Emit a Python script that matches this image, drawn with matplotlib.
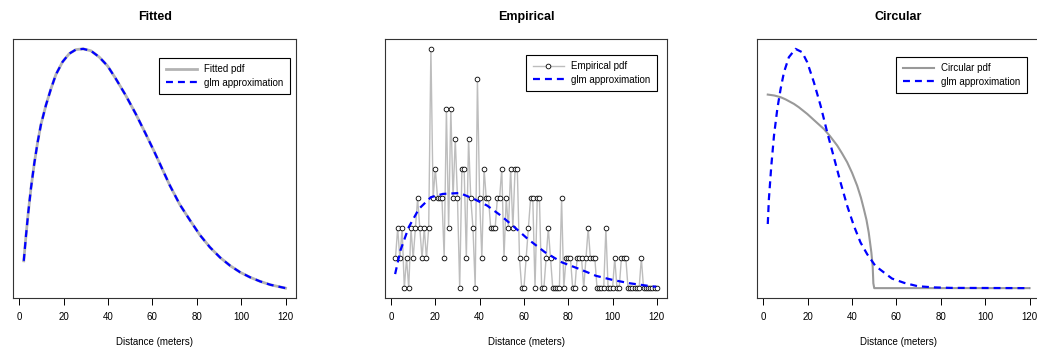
import matplotlib
matplotlib.use("Agg")
import matplotlib.pyplot as plt
import numpy as np

plt.rcParams["font.family"] = ["Liberation Sans", "DejaVu Sans"]
plt.rcParams["lines.scale_dashes"] = False

# --- Fitted panel (arbitrary pdf units) ---
fit_x = [2, 3, 4, 5.25, 6.75, 8.25, 9.75, 12, 14.25, 16.5, 19.5, 22.5, 25.5, 28.8,
         32.25, 36, 39.75, 43.5, 48, 52.5, 57, 60.75, 63.2, 67.8, 72.3, 76.9, 81.4,
         85.9, 90.5, 95, 99.6, 104.1, 108.6, 113.2, 120]
fit_pdf = [0.114, 0.219, 0.314, 0.418, 0.522, 0.610, 0.684, 0.765, 0.833, 0.893, 0.946,
           0.980, 0.997, 1.0, 0.992, 0.966, 0.929, 0.875, 0.805, 0.728, 0.644, 0.572,
           0.523, 0.430, 0.350, 0.284, 0.222, 0.171, 0.128, 0.094, 0.066, 0.045,
           0.028, 0.014, 0.0]
fit_glm = fit_pdf

# --- Empirical panel: counts at each distance 2..120 ---
emp_x = list(range(2, 121))
emp_counts = [1, 2, 1, 2, 0, 1, 0, 2, 1, 2, 3, 2, 1, 2, 1, 2, 8, 3, 4, 3,    # 2-21
              3, 3, 1, 6, 2, 6, 3, 5, 3, 0, 4, 4, 1, 5, 3, 2, 0, 7, 3, 1,    # 22-41
              4, 3, 3, 2, 2, 2, 3, 3, 4, 1, 3, 2, 4, 2, 4, 4, 1, 0, 0, 1,    # 42-61
              2, 3, 3, 0, 3, 3, 0, 0, 1, 2, 1, 0, 0, 0, 0, 3, 0, 1, 1, 1,    # 62-81
              0, 0, 1, 1, 1, 0, 1, 2, 1, 1, 1, 0, 0, 0, 0, 2, 0, 0, 0, 1,    # 82-101
              0, 0, 1, 1, 1, 0, 0, 0, 0, 0, 0, 1, 0, 0, 0, 0, 0, 0, 0]       # 102-120
emp_glm_x = [1.85, 4.2, 8, 12.6, 18, 23.4, 31, 37.2, 43.4, 49.5, 55.7, 61.8, 69.5,
             77.2, 85, 92.6, 100.3, 108, 115.7, 119.7]
emp_glm = [0.47, 1.25, 2.04, 2.65, 3.04, 3.15, 3.18, 2.99, 2.76, 2.43, 2.04, 1.64,
           1.20, 0.86, 0.64, 0.41, 0.27, 0.16, 0.08, 0.045]

# --- Circular panel ---
circ_x = [2, 5, 7.8, 10, 13.8, 16, 19.8, 23, 27.3, 30, 33.3, 35.5, 37.8, 40, 42.3,
          44, 45.3, 46.5, 47.5, 48.7, 49.3, 49.6, 50, 120]
circ_pdf = [0.809, 0.805, 0.798, 0.789, 0.770, 0.756, 0.728, 0.701, 0.665, 0.636,
            0.596, 0.563, 0.526, 0.482, 0.428, 0.378, 0.331, 0.285, 0.233, 0.149,
            0.09, 0.02, 0.0, 0.0]
circ_glm_x = [2, 2.5, 3.6, 4.8, 6.3, 7.8, 9.3, 11.5, 14.5, 17.5, 19.8, 22.8, 25.8,
              28.8, 31.8, 34.8, 37.8, 40.8, 43.8, 46.8, 50.5, 54.3, 58, 63.5, 69.6,
              77, 84.6, 120]
circ_glm = [0.268, 0.372, 0.512, 0.637, 0.749, 0.833, 0.902, 0.965, 1.0, 0.986, 0.944,
            0.860, 0.763, 0.651, 0.547, 0.442, 0.344, 0.261, 0.191, 0.142, 0.093,
            0.066, 0.040, 0.022, 0.008, 0.003, 0.001, 0.0]

xticks = [0, 20, 40, 60, 80, 100, 120]
blue_dash = (0, (5.0, 3.6))

fig = plt.figure(figsize=(10.37, 3.5), dpi=100)
W, H = 1037.0, 350.0
boxes = [(13.3, 296.0), (385.0, 667.3), (757.3, 1040.0)]
axes = []
for x0, x1 in boxes:
    ax = fig.add_axes([x0 / W, (H - 297.7) / H, (x1 - x0) / W, (297.7 - 39.3) / H])
    axes.append(ax)


def style(ax, title, ymin, ymax):
    pad = 0.04 * (ymax - ymin)
    ax.set_ylim(ymin - pad, ymax + pad)
    ax.set_xlim(2 - 0.04 * 118, 120 + 0.04 * 118)
    ax.set_xticks(xticks)
    ax.set_yticks([])
    ax.tick_params(axis="x", length=4.7, width=0.7, pad=5.5, labelsize=7)
    for s in ax.spines.values():
        s.set_linewidth(0.8)
        s.set_color("#333333")
    ax.set_xlabel("Distance (meters)", fontsize=7, labelpad=11)
    ax.set_title(title, fontsize=9, fontweight="bold", pad=14)


def legend(ax, ax_x, ax_y):
    leg = ax.legend(loc="upper right", bbox_to_anchor=(ax_x, ax_y), borderaxespad=0,
                    fontsize=7, fancybox=False, edgecolor="black", framealpha=1,
                    handlelength=3.2, borderpad=0.65, labelspacing=0.35, handletextpad=0.8)
    leg.get_frame().set_linewidth(0.8)


# Fitted
ax = axes[0]
ax.plot(fit_x, fit_pdf, color="#b3b3b3", lw=2.0, label="Fitted pdf")
ax.plot(fit_x, fit_glm, color="blue", lw=1.6, linestyle=blue_dash, label="glm approximation")
style(ax, "Fitted", min(fit_pdf), max(fit_pdf))
legend(ax, 0.979, 0.928)

# Empirical
ax = axes[1]
ax.plot(emp_x, emp_counts, color="#bdbdbd", lw=1.0, marker="o", markersize=3.4,
        markerfacecolor="white", markeredgecolor="black", markeredgewidth=0.6,
        label="Empirical pdf")
ax.plot(emp_glm_x, emp_glm, color="blue", lw=1.6, linestyle=blue_dash, label="glm approximation")
style(ax, "Empirical", 0, max(emp_counts))
legend(ax, 0.9635, 0.939)

# Circular
ax = axes[2]
ax.plot(circ_x, circ_pdf, color="#999999", lw=1.5, label="Circular pdf")
ax.plot(circ_glm_x, circ_glm, color="blue", lw=1.6, linestyle=blue_dash, label="glm approximation")
style(ax, "Circular", 0, max(circ_glm))
legend(ax, 0.954, 0.931)

fig.savefig("out.png", dpi=100)
